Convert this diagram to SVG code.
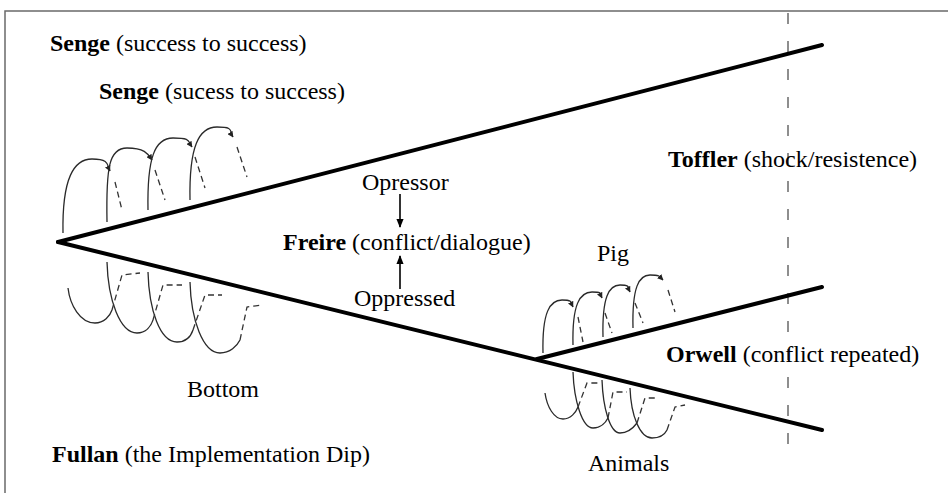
<svg xmlns="http://www.w3.org/2000/svg" width="948" height="493" viewBox="0 0 948 493">
  <defs>
    <marker id="tip" viewBox="0 0 10 10" refX="9" refY="5" markerWidth="6" markerHeight="6" orient="auto" markerUnits="userSpaceOnUse">
      <path d="M0,0 L10,5 L0,10 z" fill="#222"/>
    </marker>
    <marker id="bigtip" viewBox="0 0 10 10" refX="9" refY="5" markerWidth="9" markerHeight="11" orient="auto" markerUnits="userSpaceOnUse">
      <path d="M0,1 L10,5 L0,9 z" fill="#000"/>
    </marker>
    <style>
      .frame { fill: none; stroke: #6a6a6a; stroke-width: 1.5; }
      .main { fill: none; stroke: #000; stroke-width: 4; stroke-linecap: round; }
      .coil { fill: none; stroke: #2a2a2a; stroke-width: 1.3; }
      .back { fill: none; stroke: #333; stroke-width: 1.3; stroke-dasharray: 6 4; }
      .guide { fill: none; stroke: #444; stroke-width: 1.2; stroke-dasharray: 11 17; }
      .push { fill: none; stroke: #000; stroke-width: 1.6; }
      text { font-family: "Liberation Serif", "Times New Roman", serif; font-size: 24px; fill: #000; }
      .b { font-weight: bold; }
    </style>
  </defs>

  <rect width="948" height="493" fill="#fff"/>
  <rect class="frame" x="5" y="11" width="960" height="500"/>

  <!-- horizon marker -->
  <line class="guide" x1="788" y1="13" x2="788" y2="445"/>

  <!-- connectors: diverging paths and pushes -->
  <g id="connectors">
    <line class="main" x1="58" y1="242" x2="822" y2="45"/>
    <line class="main" x1="58" y1="242" x2="822" y2="430"/>
    <line class="main" x1="537" y1="359" x2="822" y2="287"/>
    <line class="push" x1="400" y1="194" x2="400" y2="227" marker-end="url(#bigtip)"/>
    <line class="push" x1="400" y1="289" x2="400" y2="256" marker-end="url(#bigtip)"/>
  </g>

  <!-- left coil, upper (front) half -->
  <g id="coil-left-top">
    <path class="coil" d="M63,233 C62,178 74,159 92,159 S107,165 110,171" marker-end="url(#tip)"/>
    <path class="coil" d="M107,222 C106,167 109,148 127,148 S148,154 152,160" marker-end="url(#tip)"/>
    <path class="coil" d="M148,210 C147,157 155,138 173,138 S188,141 192,147" marker-end="url(#tip)"/>
    <path class="coil" d="M190,200 C189,146 199,127 217,127 S229,131 233,137" marker-end="url(#tip)"/>
    <path class="back" d="M115,182 L122,210"/>
    <path class="back" d="M155,170 L165,200"/>
    <path class="back" d="M195,157 L205,188"/>
    <path class="back" d="M237,147 L247,177"/>
  </g>

  <!-- left coil, lower half -->
  <g id="coil-left-bottom">
    <path class="coil" d="M68,288 C70,305 80,323 95,323 C104,323 110,316 112,310"/>
    <path class="coil" d="M107,262 C108,300 120,333 137,333 C146,333 151,326 153,320"/>
    <path class="coil" d="M148,272 C149,310 160,342 177,342 C186,342 191,336 193,330"/>
    <path class="coil" d="M190,282 C191,320 203,353 220,353 C230,353 237,346 240,340"/>
    <path class="back" d="M112,310 L122,275 L140,273"/>
    <path class="back" d="M153,320 L163,285 L182,285"/>
    <path class="back" d="M193,330 L205,295 L222,295"/>
    <path class="back" d="M240,340 L247,307 L263,305"/>
  </g>

  <!-- right coil, upper half -->
  <g id="coil-right-top">
    <path class="coil" d="M543,353 C542,312 550,300 562,300 S571,303 573,307" marker-end="url(#tip)"/>
    <path class="coil" d="M573,345 C572,304 580,292 592,292 S600,294 602,298" marker-end="url(#tip)"/>
    <path class="coil" d="M603,337 C602,297 609,285 620,285 S628,288 630,292" marker-end="url(#tip)"/>
    <path class="coil" d="M633,328 C632,287 639,275 650,275 S660,277 663,280" marker-end="url(#tip)"/>
    <path class="back" d="M578,317 L583,342"/>
    <path class="back" d="M605,313 L612,333"/>
    <path class="back" d="M635,303 L643,323"/>
    <path class="back" d="M668,290 L675,312"/>
  </g>

  <!-- right coil, lower half -->
  <g id="coil-right-bottom">
    <path class="coil" d="M545,393 C547,407 554,419 563,419 C571,419 576,412 578,407"/>
    <path class="coil" d="M573,372 C574,400 582,428 593,428 C601,428 606,422 608,418"/>
    <path class="coil" d="M602,380 C603,408 610,433 620,433 C629,433 634,427 637,423"/>
    <path class="coil" d="M630,388 C631,416 640,438 652,438 C660,438 665,434 667,430"/>
    <path class="back" d="M578,407 L587,383 L598,383"/>
    <path class="back" d="M608,418 L613,392 L627,392"/>
    <path class="back" d="M637,423 L645,398 L655,398"/>
    <path class="back" d="M667,430 L675,407 L685,405"/>
  </g>

  <g id="senge-top"><text x="50" y="51"><tspan class="b">Senge</tspan> (success to success)</text></g>
  <g id="senge-inner"><text x="99" y="99"><tspan class="b">Senge</tspan> (sucess to success)</text></g>
  <g id="opressor"><text x="362" y="190">Opressor</text></g>
  <g id="freire"><text x="283" y="250"><tspan class="b">Freire</tspan> (conflict/dialogue)</text></g>
  <g id="oppressed"><text x="354" y="306">Oppressed</text></g>
  <g id="toffler"><text x="668" y="167"><tspan class="b">Toffler</tspan> (shock/resistence)</text></g>
  <g id="pig"><text x="597" y="261">Pig</text></g>
  <g id="orwell"><text x="666" y="362"><tspan class="b">Orwell</tspan> (conflict repeated)</text></g>
  <g id="bottom"><text x="187" y="397">Bottom</text></g>
  <g id="fullan"><text x="52" y="462"><tspan class="b">Fullan</tspan> (the Implementation Dip)</text></g>
  <g id="animals"><text x="588" y="471">Animals</text></g>
</svg>
